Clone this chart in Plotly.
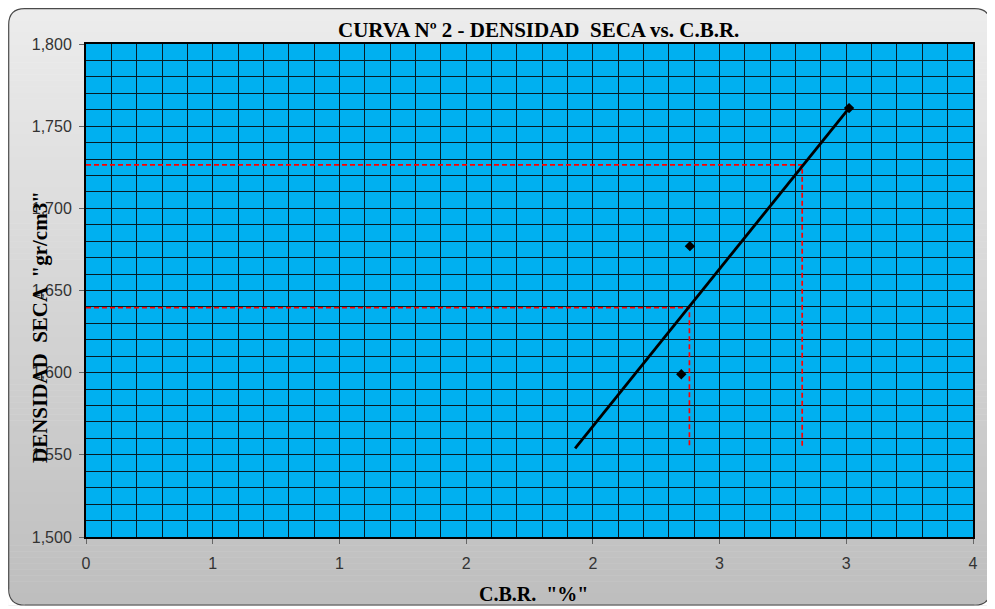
import plotly.graph_objects as go

# ---- data ----
cbr_points = [2.349, 2.383, 3.011]
dens_points = [1.599, 1.677, 1.761]

trend_cbr = [1.930, 3.011]
trend_dens = [1.554, 1.761]

# reference lines: 100% and 95% of max dry density
ref_dens = [1.7264, 1.6395]
ref_cbr = [2.826, 2.381]
ref_bottom = 1.554

x_tickvals = [0, 0.5, 1.0, 1.5, 2.0, 2.5, 3.0, 3.5]
x_ticktext = ["0", "1", "1", "2", "2", "3", "3", "4"]
y_tickvals = [1.50, 1.55, 1.60, 1.65, 1.70, 1.75, 1.80]
y_ticktext = ["1,500", "1,550", "1,600", "1,650", "1,700", "1,750", "1,800"]

# page offset (browser body margin)
OFF = 8
W, H = 995 - OFF, 609 - OFF
L, R, T, B = 86 - OFF, 22, 44 - OFF, 72
pw, ph = W - L - R, H - T - B


def px(x):
    return (x - L) / pw


def py(y):
    return (H - B - y) / ph


fig = go.Figure()

# red dashed reference lines
for d, c in zip(ref_dens, ref_cbr):
    fig.add_trace(go.Scatter(x=[0, c, c], y=[d, d, ref_bottom], mode="lines",
                             line=dict(color="#ff0000", width=1.7, dash="5px,3px"),
                             hoverinfo="skip", showlegend=False))

fig.add_trace(go.Scatter(x=trend_cbr, y=trend_dens, mode="lines",
                         line=dict(color="black", width=2.8), showlegend=False))
fig.add_trace(go.Scatter(x=cbr_points, y=dens_points, mode="markers",
                         marker=dict(symbol="diamond", color="black", size=8),
                         showlegend=False))

# background gradient bands (figure pixel coordinates)
shapes = []
x0p, x1p, y0p, y1p = 0.7, 982.5, 0.7, 597
n = 100
top_c, bot_c = 236, 190
for i in range(n):
    ya = y0p + (y1p - y0p) * i / n
    yb = y0p + (y1p - y0p) * (i + 1) / n + 0.5
    g = round(top_c + (bot_c - top_c) * i / (n - 1))
    shapes.append(dict(type="rect", xref="paper", yref="paper", layer="below",
                       x0=px(x0p), x1=px(x1p), y0=py(ya), y1=py(yb),
                       fillcolor=f"rgb({g},{g},{g})", line=dict(width=0)))
rr = 16
corners = [
    ((x0p, y0p), (x0p + rr, y0p), (x0p, y0p + rr)),
    ((x1p, y0p), (x1p - rr, y0p), (x1p, y0p + rr)),
    ((x0p, y1p), (x0p + rr, y1p), (x0p, y1p - rr)),
    ((x1p, y1p), (x1p - rr, y1p), (x1p, y1p - rr)),
]
for (cx, cy), (ax, ay), (bx, by) in corners:
    path = (f"M {px(cx)},{py(cy)} L {px(ax)},{py(ay)} "
            f"Q {px(cx)},{py(cy)} {px(bx)},{py(by)} Z")
    shapes.append(dict(type="path", xref="paper", yref="paper", layer="below",
                       path=path, fillcolor="white", line=dict(color="white", width=1)))
border = (f"M {px(x0p + rr)},{py(y0p)} L {px(x1p - rr)},{py(y0p)} "
          f"Q {px(x1p)},{py(y0p)} {px(x1p)},{py(y0p + rr)} "
          f"L {px(x1p)},{py(y1p - rr)} Q {px(x1p)},{py(y1p)} {px(x1p - rr)},{py(y1p)} "
          f"L {px(x0p + rr)},{py(y1p)} Q {px(x0p)},{py(y1p)} {px(x0p)},{py(y1p - rr)} "
          f"L {px(x0p)},{py(y0p + rr)} Q {px(x0p)},{py(y0p)} {px(x0p + rr)},{py(y0p)} Z")
shapes.append(dict(type="path", xref="paper", yref="paper", layer="below",
                   path=border, line=dict(color="#4a4a4a", width=1.2)))
shapes.append(dict(type="rect", xref="paper", yref="paper", layer="below",
                   x0=0, x1=1, y0=0, y1=1, fillcolor="#00b0f0", line=dict(width=0)))

grid_c = "#061c25"
tick_font = dict(family="Liberation Sans", size=16, color="#333333")
fig.update_layout(
    width=W, height=H,
    margin=dict(l=L, r=R, t=T, b=B),
    paper_bgcolor="white",
    plot_bgcolor="#00b0f0",
    shapes=shapes,
    xaxis=dict(range=[0, 3.5], tickmode="array", tickvals=x_tickvals, ticktext=x_ticktext,
               showgrid=True, gridcolor=grid_c, gridwidth=1,
               minor=dict(tickmode="linear", tick0=0, dtick=0.1, showgrid=True,
                          gridcolor=grid_c, gridwidth=1, ticks=""),
               showline=True, linecolor="black", linewidth=2, mirror=True,
               ticks="outside", ticklen=5, tickcolor="#666",
               ticklabelstandoff=6, tickfont=tick_font,
               zeroline=False, fixedrange=True),
    yaxis=dict(range=[1.5, 1.8], tickmode="array", tickvals=y_tickvals, ticktext=y_ticktext,
               showgrid=True, gridcolor=grid_c, gridwidth=1,
               minor=dict(tickmode="linear", tick0=1.5, dtick=0.01, showgrid=True,
                          gridcolor=grid_c, gridwidth=1, ticks=""),
               showline=True, linecolor="black", linewidth=2, mirror=True,
               ticks="outside", ticklen=5, tickcolor="#666",
               ticklabelstandoff=4, tickfont=tick_font,
               zeroline=False, fixedrange=True),
    annotations=[
        dict(text="<b>CURVA Nº 2 - DENSIDAD  SECA vs. C.B.R.</b>", xref="paper", yref="paper",
             x=px(538 - OFF), y=py(30 - OFF), showarrow=False, xanchor="center", yanchor="middle",
             font=dict(family="Liberation Serif", size=21, color="black")),
        dict(text="<b>C.B.R.  \"%\"</b>", xref="paper", yref="paper",
             x=px(533 - OFF), y=py(594 - OFF), showarrow=False, xanchor="center", yanchor="middle",
             font=dict(family="Liberation Serif", size=20, color="black")),
        dict(text="<b>DENSIDAD  SECA  \"gr/cm3\"</b>", xref="paper", yref="paper",
             x=px(40 - OFF), y=py(327 - OFF), showarrow=False, textangle=-90,
             xanchor="center", yanchor="middle",
             font=dict(family="Liberation Serif", size=21, color="black")),
    ],
)

fig.write_html("out.html")
